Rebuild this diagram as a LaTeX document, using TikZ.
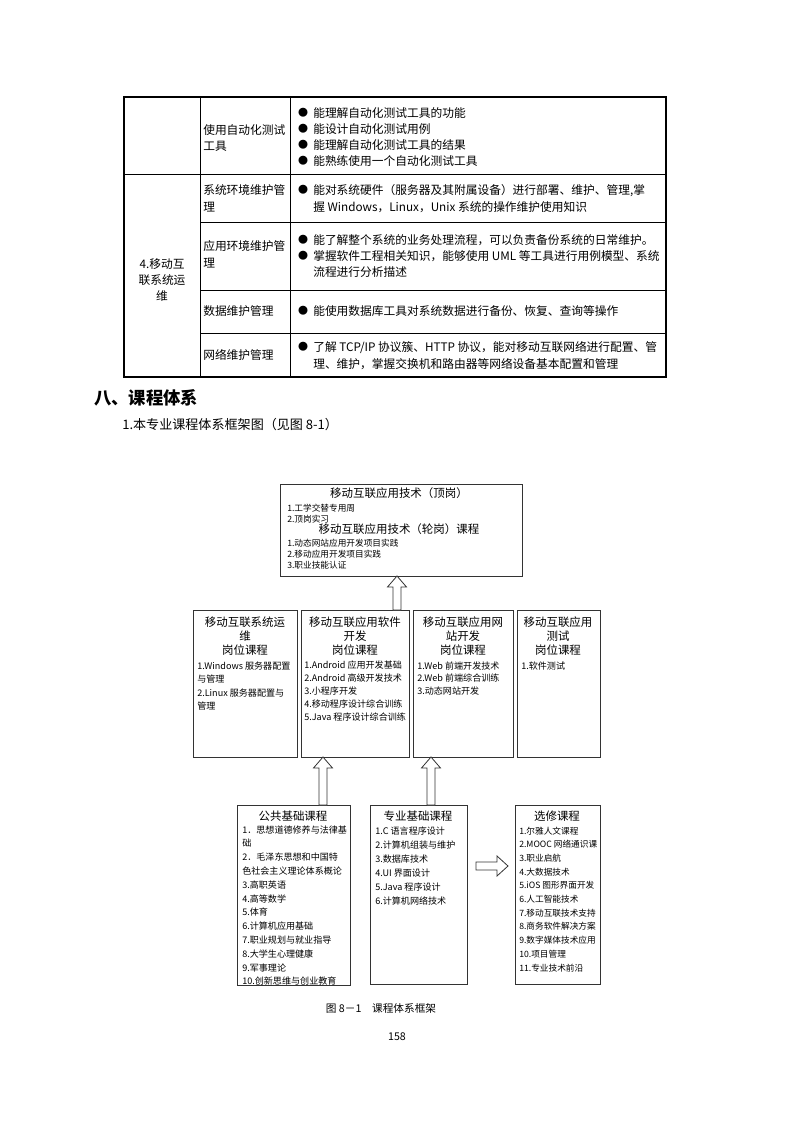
\documentclass[tikz,border=0pt]{standalone}
\usepackage{fontspec}
\setmainfont{Noto Sans CJK SC}
\usetikzlibrary{fit}

\tikzset{
  tblline/.style={line width=0.6pt},
  tblframe/.style={line width=1.2pt},
  celltext/.style={anchor=west, inner sep=0pt, font=\fontsize{8.8}{10}\selectfont, text height=0.8em, text depth=0.2em},
  bullet/.style={inner sep=0pt, font=\fontsize{7.5}{9}\selectfont},
  headtext/.style={anchor=west, inner sep=0pt, font=\fontsize{13}{15}\selectfont\bfseries},
  subtext/.style={anchor=west, inner sep=0pt, font=\fontsize{9.8}{12}\selectfont},
  dbox/.style={draw=black!80, line width=0.6pt, inner sep=0pt},
  boxtitle/.style={inner sep=0pt, font=\fontsize{8.6}{10}\selectfont, text height=0.8em, text depth=0.2em},
  boxitem/.style={anchor=west, inner sep=0pt, font=\fontsize{6.8}{8}\selectfont, text height=0.8em, text depth=0.2em},
  smallitem/.style={boxitem, font=\fontsize{6.5}{8}\selectfont},
  blkarrow/.style={draw=black!80, line width=0.6pt, fill=white},
}

% block arrows: x, y bottom, y tip
\newcommand{\upblk}[3]{%
  \draw[blkarrow] (#1-4,#2) -- (#1-4,#3+11) -- (#1-9.5,#3+11) -- (#1,#3)
    -- (#1+9.5,#3+11) -- (#1+4,#3+11) -- (#1+4,#2) -- cycle;}
% y, x start, x tip
\newcommand{\rightblk}[3]{%
  \draw[blkarrow] (#2,#1-4) -- (#3-11,#1-4) -- (#3-11,#1-10) -- (#3,#1)
    -- (#3-11,#1+10) -- (#3-11,#1+4) -- (#2,#1+4) -- cycle;}

\begin{document}
\begin{tikzpicture}[x=0.75pt, y=-0.75pt]

\useasboundingbox[fill=white] (0,0) rectangle (793,1122);

% --- Table ---
\draw[tblline] (200,97) -- (200,377);
\draw[tblline] (290,97) -- (290,377);
\draw[tblline] (124,174) -- (666,174);
\draw[tblline] (200,222) -- (666,222);
\draw[tblline] (200,290) -- (666,290);
\draw[tblline] (200,333) -- (666,333);
\draw[tblframe] (124,97) rectangle (666,377);

% row 1
\node[celltext] (r1a) at (203,130) {使用自动化测试};
\node[celltext] (r1b) at (203,146) {工具};
\foreach \t [count=\i] in {能理解自动化测试工具的功能, 能设计自动化测试用例,
    能理解自动化测试工具的结果, 能熟练使用一个自动化测试工具} {
  \node[bullet] (r1dot-\i) at (303,113+16*\i-16) {●};
  \node[celltext] (r1txt-\i) at (313,113+16*\i-16) {\t};
}

% first column
\node[celltext, anchor=center] (grpa) at (162,264) {4.移动互};
\node[celltext, anchor=center] (grpb) at (162,280) {联系统运};
\node[celltext, anchor=center] (grpc) at (162,296) {维};

% row 2
\node[celltext] (r2a) at (203,190) {系统环境维护管};
\node[celltext] (r2b) at (203,207) {理};
\node[bullet] (r2dot) at (303,190) {●};
\node[celltext] (r2t1) at (313,190) {能对系统硬件（服务器及其附属设备）进行部署、维护、管理,掌};
\node[celltext] (r2t2) at (313,207) {握 Windows，Linux，Unix 系统的操作维护使用知识};

% row 3
\node[celltext] (r3a) at (203,246) {应用环境维护管};
\node[celltext] (r3b) at (203,263) {理};
\node[bullet] (r3dot1) at (303,240) {●};
\node[celltext] (r3t1) at (313,240) {能了解整个系统的业务处理流程，可以负责备份系统的日常维护。};
\node[bullet] (r3dot2) at (303,256) {●};
\node[celltext] (r3t2) at (313,256) {掌握软件工程相关知识，能够使用 UML 等工具进行用例模型、系统};
\node[celltext] (r3t3) at (313,272) {流程进行分析描述};

% row 4
\node[celltext] (r4a) at (203,311) {数据维护管理};
\node[bullet] (r4dot) at (303,311) {●};
\node[celltext] (r4t) at (313,311) {能使用数据库工具对系统数据进行备份、恢复、查询等操作};

% row 5
\node[celltext] (r5a) at (203,355) {网络维护管理};
\node[bullet] (r5dot) at (303,347) {●};
\node[celltext] (r5t1) at (313,347) {了解 TCP/IP 协议簇、HTTP 协议，能对移动互联网络进行配置、管};
\node[celltext] (r5t2) at (313,364) {理、维护，掌握交换机和路由器等网络设备基本配置和管理};

% --- Headings ---
\node[headtext] (sec) at (94,398) {八、课程体系};
\node[subtext] (subsec) at (122,425) {1.本专业课程体系框架图（见图 8-1）};

% --- Diagram: top box ---
\node[dbox, fit={(280,484) (522,576)}] (topbox) {};
\node[boxtitle] (toptitle) at (399,493) {移动互联应用技术（顶岗）};
\node[smallitem] (topi1) at (287,507) {1.工学交替专用周};
\node[smallitem] (topi2) at (287,518) {2.顶岗实习};
\node[boxtitle] (toptitle2) at (399,529) {移动互联应用技术（轮岗）课程};
\node[smallitem] (topi3) at (287,542) {1.动态网站应用开发项目实践};
\node[smallitem] (topi4) at (287,553) {2.移动应用开发项目实践};
\node[smallitem] (topi5) at (287,564) {3.职业技能认证};

% --- Diagram: post courses ---
\node[dbox, fit={(193,610) (297,757)}] (ops) {};
\node[dbox, fit={(301,610) (409,757)}] (soft) {};
\node[dbox, fit={(413,610) (513,757)}] (web) {};
\node[dbox, fit={(517,610) (600,757)}] (test) {};

\node[boxtitle] (opst1) at (245,622) {移动互联系统运};
\node[boxtitle] (opst2) at (245,636) {维};
\node[boxtitle] (opst3) at (245,650) {岗位课程};
\foreach \t [count=\i] in {1.Windows 服务器配置, 与管理, 2.Linux 服务器配置与, 管理}
  \node[boxitem] (opsi-\i) at (197,665+13.5*\i-13.5) {\t};

\node[boxtitle] (softt1) at (355,622) {移动互联应用软件};
\node[boxtitle] (softt2) at (355,636) {开发};
\node[boxtitle] (softt3) at (355,650) {岗位课程};
\foreach \t [count=\i] in {1.Android 应用开发基础, 2.Android 高级开发技术, 3.小程序开发,
    4.移动程序设计综合训练, 5.Java 程序设计综合训练}
  \node[boxitem] (softi-\i) at (304,664+13.2*\i-13.2) {\t};

\node[boxtitle] (webt1) at (463,622) {移动互联应用网};
\node[boxtitle] (webt2) at (463,636) {站开发};
\node[boxtitle] (webt3) at (463,650) {岗位课程};
\foreach \t [count=\i] in {1.Web 前端开发技术, 2.Web 前端综合训练, 3.动态网站开发}
  \node[boxitem] (webi-\i) at (417,665+12.6*\i-12.6) {\t};

\node[boxtitle] (testt1) at (558,622) {移动互联应用};
\node[boxtitle] (testt2) at (558,636) {测试};
\node[boxtitle] (testt3) at (558,650) {岗位课程};
\node[boxitem] (testi-1) at (521,665) {1.软件测试};

% --- Diagram: base courses ---
\node[dbox, fit={(237,805) (350,985)}] (pub) {};
\node[dbox, fit={(370,805) (467,984)}] (pro) {};
\node[dbox, fit={(515,805) (600,984)}] (opt) {};

\node[boxtitle] (pubt) at (293,816) {公共基础课程};
\foreach \t [count=\i] in {1．思想道德修养与法律基, 础, 2．毛泽东思想和中国特,
    色社会主义理论体系概论, 3.高职英语, 4.高等数学, 5.体育, 6.计算机应用基础,
    7.职业规划与就业指导, 8.大学生心理健康, 9.军事理论, 10.创新思维与创业教育}
  \node[boxitem] (pubi-\i) at (242,829+13.8*\i-13.8) {\t};

\node[boxtitle] (prot) at (418,816) {专业基础课程};
\foreach \t [count=\i] in {1.C 语言程序设计, 2.计算机组装与维护, 3.数据库技术,
    4.UI 界面设计, 5.Java 程序设计, 6.计算机网络技术}
  \node[boxitem] (proi-\i) at (375,830+14*\i-14) {\t};

\node[boxtitle] (optt) at (557,816) {选修课程};
\foreach \t [count=\i] in {1.尔雅人文课程, 2.MOOC 网络通识课, 3.职业启航, 4.大数据技术,
    5.iOS 图形界面开发, 6.人工智能技术, 7.移动互联技术支持, 8.商务软件解决方案,
    9.数字媒体技术应用, 10.项目管理, 11.专业技术前沿}
  \node[smallitem] (opti-\i) at (519,830+13.7*\i-13.7) {\t};

% --- Block arrows ---
\upblk{397}{610}{576}
\upblk{323}{805}{757}
\upblk{431}{805}{757}
\rightblk{866}{476}{508}

% --- Caption and page number ---
\node[boxtitle, font=\fontsize{8}{10}\selectfont] (cap) at (381,1008) {图 8－1\quad 课程体系框架};
\node[boxtitle, font=\fontsize{8}{10}\selectfont] (pageno) at (397,1036) {158};

\end{tikzpicture}
\end{document}
